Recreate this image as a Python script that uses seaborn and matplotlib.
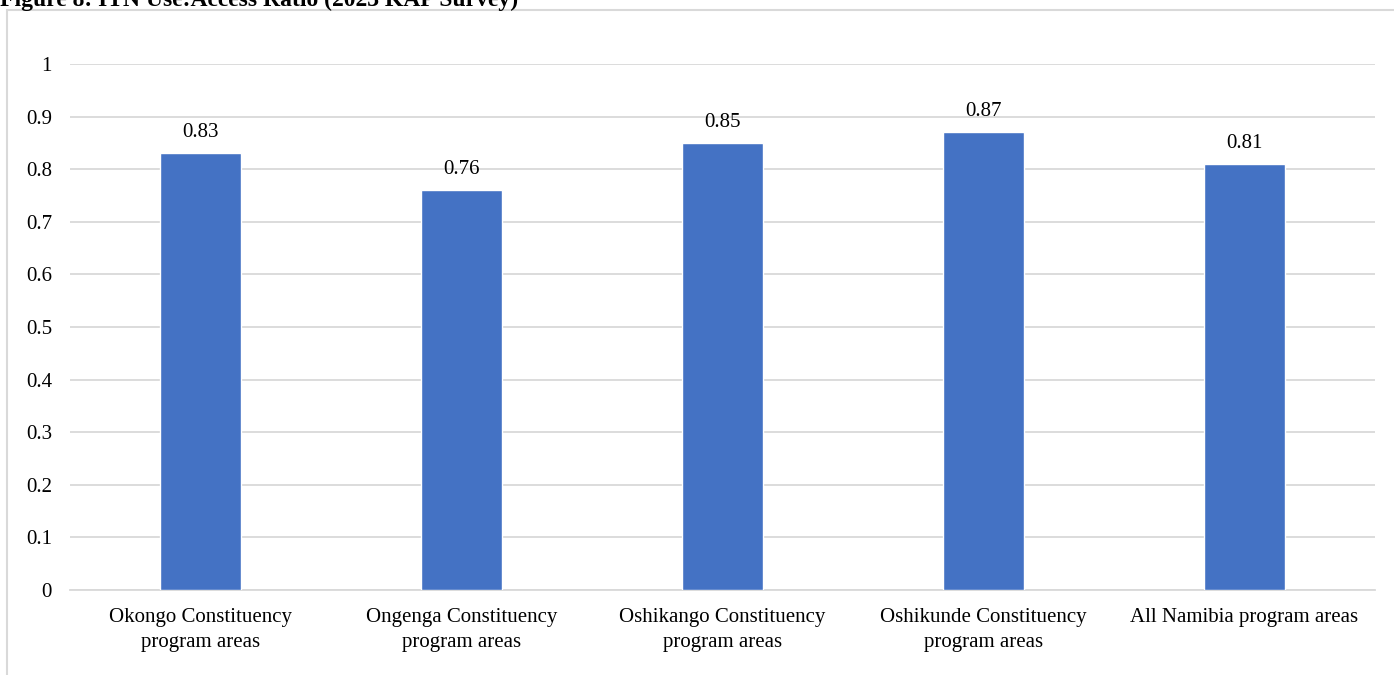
import matplotlib
matplotlib.use("Agg")
import matplotlib.pyplot as plt
import seaborn as sns
import pandas as pd
from matplotlib.patches import Rectangle

categories = [
    "Okongo Constituency\nprogram areas",
    "Ongenga Constituency\nprogram areas",
    "Oshikango Constituency\nprogram areas",
    "Oshikunde Constituency\nprogram areas",
    "All Namibia program areas",
]
ratios = [0.83, 0.76, 0.85, 0.87, 0.81]
y_ticks = [0, 0.1, 0.2, 0.3, 0.4, 0.5, 0.6, 0.7, 0.8, 0.9, 1]
y_tick_labels = ["0", "0.1", "0.2", "0.3", "0.4", "0.5", "0.6", "0.7", "0.8", "0.9", "1"]
title = "Figure 8: ITN Use:Access Ratio (2023 KAP Survey)"

sns.set_theme(style="white")
plt.rcParams["font.family"] = ["Liberation Serif", "DejaVu Serif"]

df = pd.DataFrame({"area": categories, "ratio": ratios})

fig = plt.figure(figsize=(13.94, 6.75), dpi=100)
ax = fig.add_axes([70 / 1394, 1 - 590 / 675, 1305 / 1394, 526 / 675])

sns.barplot(data=df, x="area", y="ratio", color="#4472C4", saturation=1,
            width=0.314, ax=ax, zorder=3)

ax.set_ylim(0, 1)
ax.set_yticks(y_ticks)
ax.set_yticklabels(y_tick_labels, fontsize=15, color="#000000")
ax.tick_params(axis="x", labelsize=15, colors="#000000", length=0, pad=13)
ax.tick_params(axis="y", length=0, pad=13)
for lbl in ax.get_xticklabels():
    lbl.set_linespacing(1.45)
ax.grid(axis="y", color="#d9d9d9", linewidth=1.3, zorder=0)
ax.set_axisbelow(True)
for s in ["top", "right", "left"]:
    ax.spines[s].set_visible(False)
ax.spines["bottom"].set_color("#d9d9d9")
ax.spines["bottom"].set_linewidth(1.3)
ax.set_xlabel("")
ax.set_ylabel("")

for container in ax.containers:
    ax.bar_label(container, labels=[f"{v:.2f}" for v in ratios],
                 padding=8, fontsize=15, color="#000000")

# Chart frame
frame = Rectangle((7 / 1394, -0.1), 1.2, 1 - 10 / 675 + 0.1, transform=fig.transFigure,
                  fill=False, edgecolor="#d9d9d9", linewidth=1.5, clip_on=False)
fig.patches.append(frame)

fig.text(0.0, 1 - 6 / 675, title, fontsize=17, fontweight="bold",
         ha="left", va="baseline", color="#000000")

fig.savefig("out.png", dpi=100)
